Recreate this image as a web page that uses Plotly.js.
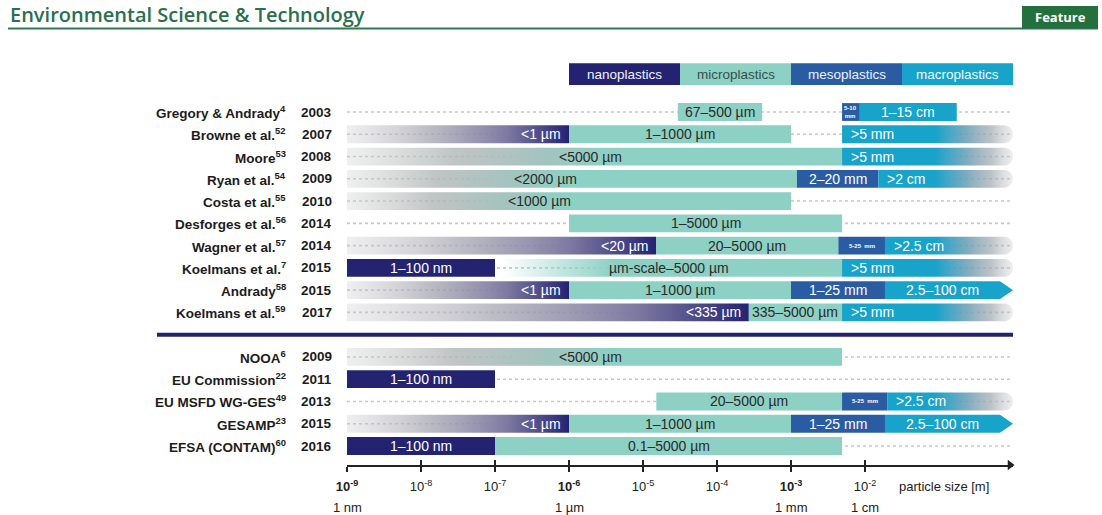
<!DOCTYPE html>
<html><head><meta charset="utf-8">
<script src="https://cdn.plot.ly/plotly-3.0.1.min.js"></script>
<style>body{margin:0;background:#fff}#chart{width:1102px;height:515px}</style>
</head><body><div id="chart"></div>
<script>
// ---- Data: studies (rows) ----
const studyNames = ['Gregory & Andrady','Browne et al.','Moore','Ryan et al.','Costa et al.','Desforges et al.','Wagner et al.','Koelmans et al.','Andrady','Koelmans et al.','NOOA','EU Commission','EU MSFD WG-GES','GESAMP','EFSA (CONTAM)'];
const studyRefs = ['4','52','53','54','55','56','57','7','58','59','6','22','49','23','60'];
const studyYears = ['2003','2007','2008','2009','2010','2014','2014','2015','2015','2017','2009','2011','2013','2015','2016'];
const studyRowPos = [0,1,2,3,4,5,6,7,8,9,11,12,13,14,15];
const separatorPos = 10;

// ---- Data: size-class segments; from/to are log10(particle size in m) ----
const segStudy = [0,0,0, 1,1,1, 2,2, 3,3,3, 4, 5, 6,6,6,6, 7,7,7, 8,8,8,8, 9,9,9, 10, 11, 12,12,12, 13,13,13,13, 14,14];
const segFrom  = [-4.53,-2.31,-2.07, -9,-6,-2.31, -9,-2.31, -9,-2.92,-1.82, -9, -6, -9,-4.82,-2.36,-1.73, -9,-7,-2.31, -9,-6,-3,-1.73, -9,-3.57,-2.31, -9, -9, -4.82,-2.31,-1.70, -9,-6,-3,-1.73, -9,-7];
const segTo    = [-3.39,-2.07,-0.76, -6,-3,0, -2.31,0, -2.92,-1.82,0, -3, -2.31, -4.82,-2.36,-1.73,0, -7,-2.31,0, -6,-3,-1.73,0, -3.57,-2.31,0, -2.31, -7, -2.31,-1.70,0, -6,-3,-1.73,0, -7,-2.31];
const segClass = ['micro','mesoTiny','macro', 'nanoFade','micro','macroFade', 'microFade','macroFade', 'microFade','meso','macroFade', 'microFade', 'micro', 'nanoFade','micro','mesoTiny','macroFade', 'nano','microFadeIn','macroFade', 'nanoFade','micro','meso','macroArrow', 'nanoFade','micro','macroFade', 'microFade', 'nano', 'micro','mesoTiny','macroFade', 'nanoFade','micro','meso','macroArrow', 'nano','micro'];
const segLabel = ['67–500 µm','5-10<br>mm','1–15 cm', '<1 µm','1–1000 µm','>5 mm', '<5000 µm','>5 mm', '<2000 µm','2–20 mm','>2 cm', '<1000 µm', '1–5000 µm', '<20 µm','20–5000 µm','5-25  mm','>2.5 cm', '1–100 nm','µm-scale–5000 µm','>5 mm', '<1 µm','1–1000 µm','1–25 mm','2.5–100 cm', '<335 µm','335–5000 µm','>5 mm', '<5000 µm', '1–100 nm', '20–5000 µm','5-25  mm','>2.5 cm', '<1 µm','1–1000 µm','1–25 mm','2.5–100 cm', '1–100 nm','0.1–5000 µm'];

// ---- Data: class key ----
const classNames = ['nanoplastics','microplastics','mesoplastics','macroplastics'];
const classFrom = [-6,-4.5,-3,-1.5];
const classTo = [-4.5,-3,-1.5,0];

// ---- Data: axis ----
const tickExp = [-9,-8,-7,-6,-5,-4,-3,-2];
const tickBold = [true,false,false,true,false,false,true,false];
const unitLabels = ['1 nm','1 µm','1 mm','1 cm'];
const unitExp = [-9,-6,-3,-2];

// ---- Styles ----
const FONT = 'Liberation Sans, Arial, sans-serif';
const NAVY = '#232372', TEAL = '#8dd0c4', MESO = '#2a5ca3', MACRO = '#18a3cb';
const classColors = [NAVY, TEAL, MESO, MACRO];
const classTextColors = ['#f2f2fa', '#34504c', '#eef2fa', '#f2fafd'];
const H = 0.4;
const PX_PER_DEC = 666/9;
const YTOP = -5.030, YBOT = 15.853;
const W = 666, PH = 465;
const px2paperX = p => (p-347)/W;
const px2paperY = p => (PH-p)/PH;

function polygon(cls, a, b, r) {
  if (cls === 'macroArrow') {
    const t = 13/PX_PER_DEC;
    return {x:[a,b-t,b,b-t,a,a], y:[r-H,r-H,r,r+H,r+H,r-H]};
  }
  if (cls === 'macroFade') {
    const rx = 9/PX_PER_DEC; const xs=[a], ys=[r-H];
    for (let k=0;k<=12;k++){const th=-Math.PI/2+Math.PI*k/12; xs.push(b-rx+rx*Math.cos(th)); ys.push(r+H*Math.sin(th));}
    xs.push(a,a); ys.push(r+H,r-H);
    return {x:xs, y:ys};
  }
  return {x:[a,b,b,a,a], y:[r-H,r-H,r+H,r+H,r-H]};
}
function gradient(cls, a, b) {
  if (cls === 'nanoFade') return {type:'horizontal', start:a, stop:b, colorscale:[[0,'rgba(200,200,205,0.3)'],[0.35,'rgba(170,170,180,0.75)'],[0.72,'rgba(120,116,158,0.96)'],[1,NAVY]]};
  if (cls === 'microFade') return {type:'horizontal', start:a, stop:b-3.1, colorscale:[[0,'rgba(200,202,202,0.3)'],[0.4,'rgba(175,180,180,0.78)'],[0.75,'rgb(162,196,190)'],[1,TEAL]]};
  if (cls === 'microFadeIn') return {type:'horizontal', start:a+0.1, stop:a+1.6, colorscale:[[0,'rgba(141,208,196,0)'],[0.35,'rgba(141,208,196,0.35)'],[1,TEAL]]};
  if (cls === 'macroFade') return {type:'horizontal', start:-1.05, stop:0, colorscale:[[0,MACRO],[0.4,'rgba(105,160,182,0.88)'],[0.72,'rgba(160,168,175,0.7)'],[1,'rgba(200,200,200,0.3)']]};
  return null;
}
const solidFill = {nano:NAVY, micro:TEAL, meso:MESO, mesoTiny:MESO, macro:MACRO, macroArrow:MACRO};

const traces = [];
const annotations = [];
const shapes = [];

// dotted guide lines
studyRowPos.forEach(r => {
  traces.push({type:'scatter', mode:'lines', x:[-9,0], y:[r,r], line:{color:'#c8c8c8', width:1.6, dash:'dot'}, hoverinfo:'skip', showlegend:false});
});

// segments
segStudy.forEach((s,i) => {
  const r = studyRowPos[s], a = segFrom[i], b = segTo[i], cls = segClass[i];
  const p = polygon(cls, a, b, r);
  const t = {type:'scatter', mode:'none', x:p.x, y:p.y, fill:'toself', hoverinfo:'skip', showlegend:false};
  const g = gradient(cls, a, b);
  if (g) t.fillgradient = g; else t.fillcolor = solidFill[cls];
  traces.push(t);
  const dark = cls.startsWith('micro');
  const ann = {xref:'x', yref:'y', y:r, text:segLabel[i], showarrow:false, yanchor:'middle',
    font:{family:FONT, size:14, color: dark ? '#2a2a2a' : '#ffffff'}};
  if (cls === 'nanoFade') { ann.x = b; ann.xanchor='right'; ann.xshift=-6; }
  else if (cls === 'macroFade') { ann.x = a; ann.xanchor='left'; ann.xshift=7; }
  else if (cls === 'microFade') { ann.x = b-3.4; ann.xanchor='center'; }
  else if (cls === 'macroArrow') { ann.x = (a + b - 13/PX_PER_DEC)/2; ann.xanchor='center'; }
  else { ann.x = (a+b)/2; ann.xanchor='center'; }
  if (cls === 'mesoTiny') { ann.font.size = 6; ann.font.weight = 700; }
  annotations.push(ann);
});

// class key
classNames.forEach((n,i) => {
  const yc = -1.70, hh = 0.49;
  traces.push({type:'scatter', mode:'none', x:[classFrom[i],classTo[i],classTo[i],classFrom[i],classFrom[i]], y:[yc-hh,yc-hh,yc+hh,yc+hh,yc-hh], fill:'toself', fillcolor:classColors[i], hoverinfo:'skip', showlegend:false});
  annotations.push({xref:'x', yref:'y', x:(classFrom[i]+classTo[i])/2, y:yc, text:n, showarrow:false, xanchor:'center', yanchor:'middle', font:{family:FONT, size:13.5, color:classTextColors[i]}});
});

// row labels and years
studyRowPos.forEach((r,i) => {
  annotations.push({xref:'paper', yref:'y', x:px2paperX(288), y:r, xanchor:'right', yanchor:'middle', showarrow:false,
    text:'<b>'+studyNames[i]+'<sup>'+studyRefs[i]+'</sup></b>', font:{family:FONT, size:13.5, color:'#1c1c1c'}});
  annotations.push({xref:'paper', yref:'y', x:px2paperX(334), y:r, xanchor:'right', yanchor:'middle', showarrow:false,
    text:'<b>'+studyYears[i]+'</b>', font:{family:FONT, size:13.5, color:'#1c1c1c'}});
});

// separator
shapes.push({type:'line', xref:'paper', yref:'y', x0:px2paperX(157), x1:1, y0:separatorPos, y1:separatorPos, line:{color:'#222270', width:4}});

// axis arrow head
traces.push({type:'scatter', mode:'markers', xaxis:'x2', x:[-3/PX_PER_DEC], y:[YBOT], marker:{symbol:'triangle-right', size:9, color:'#222'}, cliponaxis:false, hoverinfo:'skip', showlegend:false});

// axis titles / unit labels
annotations.push({xref:'x', yref:'paper', x:-9+(897-347)/PX_PER_DEC, y:px2paperY(486), xanchor:'left', yanchor:'middle', showarrow:false, text:'particle size [m]', font:{family:FONT, size:13, color:'#222'}});
unitLabels.forEach((u,i) => {
  annotations.push({xref:'x', yref:'paper', x:unitExp[i], y:px2paperY(507), xanchor:'center', yanchor:'middle', showarrow:false, text:u, font:{family:FONT, size:13, color:'#222'}});
});

// journal header
annotations.push({xref:'paper', yref:'paper', x:px2paperX(8), y:px2paperY(15), xanchor:'left', yanchor:'middle', showarrow:false, text:'Environmental Science & Technology', font:{family:'Open Sans, sans-serif', size:20, weight:600, color:'#2b6f4f'}});
shapes.push({type:'line', xref:'paper', yref:'paper', x0:px2paperX(8), x1:px2paperX(1098), y0:px2paperY(28.5), y1:px2paperY(28.5), line:{color:'#2f7a50', width:2}});
shapes.push({type:'rect', xref:'paper', yref:'paper', x0:px2paperX(1022), x1:px2paperX(1098), y0:px2paperY(28.5), y1:px2paperY(6), fillcolor:'#23703e', line:{width:0}});
annotations.push({xref:'paper', yref:'paper', x:px2paperX(1060), y:px2paperY(17), xanchor:'center', yanchor:'middle', showarrow:false, text:'<b>Feature</b>', font:{family:'Open Sans, sans-serif', size:13, color:'#ffffff'}});

const tickText = tickExp.map((e,i) => tickBold[i] ? '<b>10<sup>'+e+'</sup></b>' : '10<sup>'+e+'</sup>');

const layout = {
  width:1102, height:515,
  margin:{l:347, r:89, t:0, b:50, pad:0},
  paper_bgcolor:'#ffffff', plot_bgcolor:'rgba(0,0,0,0)',
  showlegend:false,
  xaxis:{range:[-9,0], showgrid:false, zeroline:false, showline:true, linecolor:'#222', linewidth:1.5,
    ticks:'outside', ticklen:5, tickwidth:1.2, tickcolor:'#222', tickvals:tickExp, ticktext:tickText,
    tickfont:{family:FONT, size:13, color:'#222'}, ticklabelstandoff:4, fixedrange:true},
  xaxis2:{overlaying:'x', matches:'x', anchor:'y', side:'bottom', range:[-9,0], showgrid:false, zeroline:false, showline:false,
    ticks:'inside', ticklen:5, tickwidth:1.2, tickcolor:'#222', tickvals:tickExp, showticklabels:false},
  yaxis:{range:[YBOT, YTOP], visible:false, showgrid:false, zeroline:false, fixedrange:true},
  annotations, shapes
};
Plotly.newPlot('chart', traces, layout, {staticPlot:true, displayModeBar:false});
</script></body></html>
